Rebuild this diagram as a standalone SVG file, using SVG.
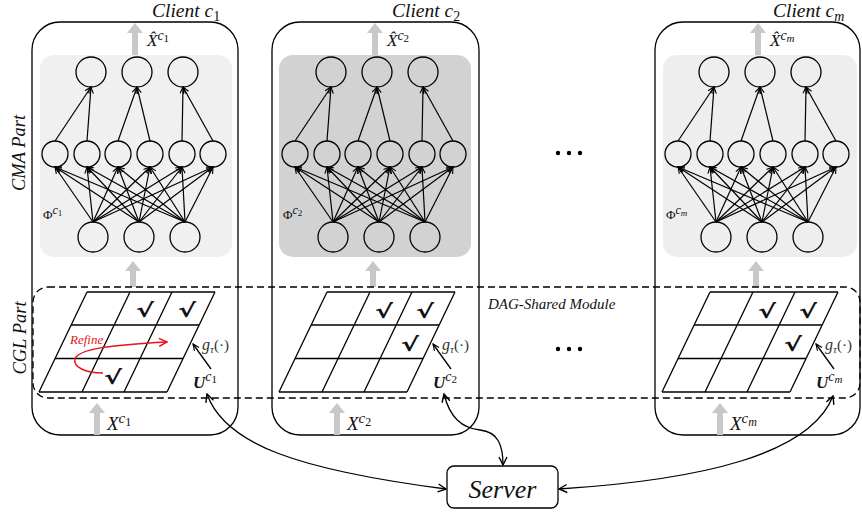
<svg xmlns="http://www.w3.org/2000/svg" xmlns:xlink="http://www.w3.org/1999/xlink" width="862" height="512" viewBox="0 0 862 512">
<style>
.box{fill:none;stroke:#000;stroke-width:1.3}
.nd{fill:none;stroke:#000;stroke-width:1.3}
.ed line{stroke:#000;stroke-width:1.2;marker-end:url(#ah)}
.grid line{stroke:#000;stroke-width:1.3}
.ga{fill:#c8c8c8}
.ser{font-family:"Liberation Serif","Times New Roman",serif;fill:#111}
.it{font-style:italic}
.up{font-style:normal}
.bd{font-weight:bold}
.chk{font-family:"DejaVu Sans","Liberation Sans",sans-serif;font-weight:bold;font-size:18px;fill:#111;text-anchor:middle}
.conn{fill:none;stroke:#000;stroke-width:1.3;marker-start:url(#ahc);marker-end:url(#ahc)}
.dash{fill:none;stroke:#000;stroke-width:1.3;stroke-dasharray:7 4}
</style>
<defs>
<marker id="ah" viewBox="0 0 10 10" refX="9" refY="5" markerWidth="8" markerHeight="8" markerUnits="userSpaceOnUse" orient="auto"><path d="M1,1.5 L9,5 L1,8.5" fill="none" stroke="#000" stroke-width="1.4"/></marker>
<marker id="ahc" viewBox="0 0 10 10" refX="9" refY="5" markerWidth="10" markerHeight="10" markerUnits="userSpaceOnUse" orient="auto-start-reverse"><path d="M1,1 L9,5 L1,9" fill="none" stroke="#000" stroke-width="1.4"/></marker>
<marker id="ahr" viewBox="0 0 10 10" refX="9" refY="5" markerWidth="10" markerHeight="10" markerUnits="userSpaceOnUse" orient="auto"><path d="M1,1 L9,5 L1,9" fill="none" stroke="#e8141c" stroke-width="1.5"/></marker>
<g id="net">
<g class="ed">
<line x1="55" y1="141" x2="91" y2="87"/><line x1="87" y1="141" x2="91" y2="87"/>
<line x1="118" y1="141" x2="137" y2="87"/><line x1="150" y1="141" x2="137" y2="87"/>
<line x1="182" y1="141" x2="183" y2="87"/><line x1="213" y1="141" x2="183" y2="87"/>
<line x1="93" y1="222" x2="55" y2="167"/><line x1="93" y1="222" x2="87" y2="167"/><line x1="93" y1="222" x2="118" y2="167"/><line x1="93" y1="222" x2="150" y2="167"/><line x1="93" y1="222" x2="182" y2="167"/><line x1="93" y1="222" x2="213" y2="167"/>
<line x1="139" y1="222" x2="55" y2="167"/><line x1="139" y1="222" x2="87" y2="167"/><line x1="139" y1="222" x2="118" y2="167"/><line x1="139" y1="222" x2="150" y2="167"/><line x1="139" y1="222" x2="182" y2="167"/><line x1="139" y1="222" x2="213" y2="167"/>
<line x1="185" y1="222" x2="55" y2="167"/><line x1="185" y1="222" x2="87" y2="167"/><line x1="185" y1="222" x2="118" y2="167"/><line x1="185" y1="222" x2="150" y2="167"/><line x1="185" y1="222" x2="182" y2="167"/><line x1="185" y1="222" x2="213" y2="167"/>
</g>
<circle class="nd" cx="91" cy="72" r="15"/><circle class="nd" cx="137" cy="72" r="15"/><circle class="nd" cx="183" cy="72" r="15"/>
<circle class="nd" cx="55" cy="154" r="13"/><circle class="nd" cx="87" cy="154" r="13"/><circle class="nd" cx="118" cy="154" r="13"/><circle class="nd" cx="150" cy="154" r="13"/><circle class="nd" cx="182" cy="154" r="13"/><circle class="nd" cx="213" cy="154" r="13"/>
<circle class="nd" cx="93" cy="237" r="15"/><circle class="nd" cx="139" cy="237" r="15"/><circle class="nd" cx="185" cy="237" r="15"/>
</g>
<g id="grid" class="grid">
<line x1="87" y1="292" x2="215" y2="292"/><line x1="71" y1="325" x2="199" y2="325"/><line x1="55" y1="358.5" x2="183" y2="358.5"/><line x1="39" y1="392" x2="167" y2="392"/>
<line x1="87" y1="292" x2="39" y2="392"/><line x1="130" y1="292" x2="82" y2="392"/><line x1="172" y1="292" x2="124" y2="392"/><line x1="215" y1="292" x2="167" y2="392"/>
</g>
<g id="garrows">
<polygon class="ga" points="135,23 143,33 138,33 138,55 132,55 132,33 127,33"/>
<polygon class="ga" points="133,261 141,271 136,271 136,287 130,287 130,271 125,271"/>
<polygon class="ga" points="97,403 105,413 100,413 100,435 94,435 94,413 89,413"/>
</g>
<g id="gu">
<line x1="211" y1="369" x2="193" y2="344" stroke="#000" stroke-width="1.3" marker-end="url(#ah)"/>
</g>
</defs>

<g id="side-labels" class="ser it" font-size="18.5">
<text transform="translate(25,153) rotate(-90)" text-anchor="middle">CMA Part</text>
<text transform="translate(26,338) rotate(-90)" text-anchor="middle">CGL Part</text>
</g>

<g id="client-1">
<rect class="box" x="32" y="22" width="206" height="413" rx="28"/>
<rect x="40" y="55" width="192" height="202" rx="14" fill="#f0f0f0"/>
<use xlink:href="#net"/>
<use xlink:href="#garrows"/>
<use xlink:href="#grid"/>
<use xlink:href="#gu"/>
<text class="chk" transform="translate(145,317) scale(1.5,1.05)">√</text><text class="chk" transform="translate(187,317) scale(1.5,1.05)">√</text><text class="chk" transform="translate(113,384) scale(1.5,1.05)">√</text>
<path d="M103,373 C85,373 73,367 75,359 C78,349 110,345 167,342" fill="none" stroke="#e8141c" stroke-width="1.5" marker-end="url(#ahr)"/>
<text class="ser it" x="70" y="344" font-size="13" style="fill:#e8141c">Refine</text>
<text class="ser it" x="152" y="17" font-size="19.5">Client c<tspan class="up" font-size="14" dy="4">1</tspan></text>
<text class="ser it" x="147" y="46" font-size="17">X&#x302;<tspan font-size="14" dy="-6">c</tspan><tspan class="up" font-size="11" dy="2">1</tspan></text>
<text class="ser up" x="43" y="219" font-size="13">Φ<tspan class="it" font-size="12" dy="-5">c</tspan><tspan font-size="9" dy="2">1</tspan></text>
<text class="ser it" x="107" y="430" font-size="19">X<tspan font-size="15" dy="-7">c</tspan><tspan class="up" font-size="12" dy="3">1</tspan></text>
<text class="ser it" x="193" y="388" font-size="17"><tspan class="bd">U</tspan><tspan font-size="14" dy="-7">c</tspan><tspan class="up" font-size="11" dy="2">1</tspan></text>
<text class="ser it" x="202" y="350" font-size="16" style="fill:#333">g<tspan font-size="11" dy="3">τ</tspan><tspan class="up" font-size="15" dy="-3">(·)</tspan></text>
</g>

<g id="client-2" transform="translate(240,0)">
<rect class="box" x="32" y="22" width="207" height="413" rx="28"/>
<rect x="39" y="55" width="192" height="202" rx="14" fill="#d3d2d3"/>
<use xlink:href="#net"/>
<use xlink:href="#garrows"/>
<use xlink:href="#grid"/>
<use xlink:href="#gu"/>
<text class="chk" transform="translate(144,318) scale(1.5,1.05)">√</text><text class="chk" transform="translate(185,318) scale(1.5,1.05)">√</text><text class="chk" transform="translate(170,351) scale(1.5,1.05)">√</text>
<text class="ser it" x="152" y="17" font-size="19.5">Client c<tspan class="up" font-size="14" dy="4">2</tspan></text>
<text class="ser it" x="147" y="46" font-size="17">X&#x302;<tspan font-size="14" dy="-6">c</tspan><tspan class="up" font-size="11" dy="2">2</tspan></text>
<text class="ser up" x="43" y="219" font-size="13">Φ<tspan class="it" font-size="12" dy="-5">c</tspan><tspan font-size="9" dy="2">2</tspan></text>
<text class="ser it" x="107" y="430" font-size="19">X<tspan font-size="15" dy="-7">c</tspan><tspan class="up" font-size="12" dy="3">2</tspan></text>
<text class="ser it" x="193" y="388" font-size="17"><tspan class="bd">U</tspan><tspan font-size="14" dy="-7">c</tspan><tspan class="up" font-size="11" dy="2">2</tspan></text>
<text class="ser it" x="202" y="350" font-size="16" style="fill:#333">g<tspan font-size="11" dy="3">τ</tspan><tspan class="up" font-size="15" dy="-3">(·)</tspan></text>
</g>

<g id="client-m" transform="translate(623,0)">
<rect class="box" x="32" y="22" width="205" height="413" rx="28"/>
<rect x="40" y="55" width="194" height="202" rx="14" fill="#eeeeee"/>
<use xlink:href="#net"/>
<use xlink:href="#garrows"/>
<use xlink:href="#grid"/>
<use xlink:href="#gu"/>
<text class="chk" transform="translate(144,318) scale(1.5,1.05)">√</text><text class="chk" transform="translate(185,318) scale(1.5,1.05)">√</text><text class="chk" transform="translate(170,351) scale(1.5,1.05)">√</text>
<text class="ser it" x="150" y="17" font-size="19.5">Client c<tspan font-size="14" dy="4">m</tspan></text>
<text class="ser it" x="147" y="46" font-size="17">X&#x302;<tspan font-size="14" dy="-6">c</tspan><tspan font-size="11" dy="2">m</tspan></text>
<text class="ser up" x="43" y="219" font-size="13">Φ<tspan class="it" font-size="12" dy="-5">c</tspan><tspan class="it" font-size="9" dy="2">m</tspan></text>
<text class="ser it" x="107" y="430" font-size="19">X<tspan font-size="15" dy="-7">c</tspan><tspan font-size="12" dy="3">m</tspan></text>
<text class="ser it" x="193" y="388" font-size="17"><tspan class="bd">U</tspan><tspan font-size="14" dy="-7">c</tspan><tspan font-size="11" dy="2">m</tspan></text>
<text class="ser it" x="202" y="350" font-size="16" style="fill:#333">g<tspan font-size="11" dy="3">τ</tspan><tspan class="up" font-size="15" dy="-3">(·)</tspan></text>
</g>

<g id="dag-shared-module">
<rect class="dash" x="33" y="287" width="827" height="111" rx="15"/>
<text class="ser it" x="488" y="309" font-size="15">DAG-Shared Module</text>
</g>

<g id="ellipses" fill="#000">
<circle cx="558" cy="153" r="2.2"/><circle cx="569" cy="153" r="2.2"/><circle cx="580" cy="153" r="2.2"/>
<circle cx="558" cy="349" r="2.2"/><circle cx="569" cy="349" r="2.2"/><circle cx="580" cy="349" r="2.2"/>
</g>

<g id="server">
<rect x="447" y="466" width="111" height="42" rx="7" fill="#fff" stroke="#000" stroke-width="1.3"/>
<text class="ser it" x="502.5" y="498" font-size="26" text-anchor="middle">Server</text>
</g>

<g id="connectors">
<path class="conn" d="M207,394 C225,445 300,470 446,489"/>
<path class="conn" d="M444,394 C450,418 462,428 480,430 C498,432 503,445 503,465"/>
<path class="conn" d="M559,489 C700,480 810,455 833,396"/>
</g>
</svg>
